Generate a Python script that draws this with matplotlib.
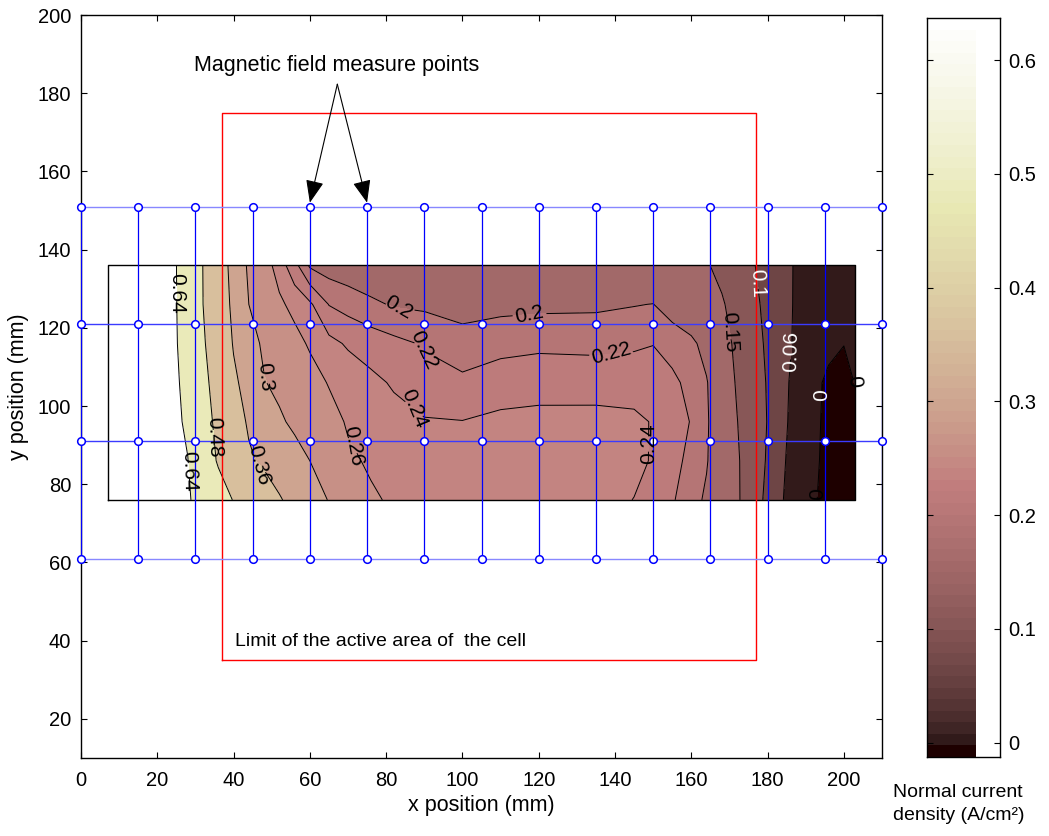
import numpy as np
import matplotlib
matplotlib.use("Agg")
import matplotlib.pyplot as plt
from matplotlib.colors import Normalize

plt.rcParams['font.family'] = ['Liberation Sans', 'DejaVu Sans']

# contour grid (mm) and current density values
xs = [7, 18, 24, 28, 32, 36, 40, 44, 48, 52, 56, 60, 65, 70, 76, 82, 90, 100,
      110, 120, 135, 145, 150, 155, 160, 164, 168, 172, 176, 180, 184, 188,
      192, 196, 200, 203]
ys = [76, 86, 96, 106, 116, 126, 136]
z76 = [0.80, 0.71, 0.674, 0.650, 0.601, 0.537, 0.475, 0.439, 0.402, 0.365, 0.342, 0.322,
       0.298, 0.282, 0.263, 0.257, 0.254, 0.253, 0.253, 0.252, 0.249, 0.2395, 0.231, 0.222,
       0.209, 0.196, 0.176, 0.156, 0.124, 0.089, 0.061, 0.033, 0.006, -0.018, -0.022, -0.022]
z86 = [0.80, 0.71, 0.669, 0.642, 0.552, 0.468, 0.419, 0.370, 0.347, 0.332, 0.316, 0.300,
       0.282, 0.264, 0.257, 0.254, 0.252, 0.252, 0.252, 0.252, 0.251, 0.246, 0.238, 0.227,
       0.214, 0.202, 0.179, 0.155, 0.126, 0.0955, 0.065, 0.0375, 0.010, -0.015, -0.020, -0.020]
z96 = [0.80, 0.71, 0.665, 0.625, 0.527, 0.451, 0.395, 0.351, 0.329, 0.306, 0.292, 0.282,
       0.269, 0.2575, 0.252, 0.246, 0.2415, 0.2405, 0.244, 0.246, 0.246, 0.244, 0.2388, 0.229,
       0.219, 0.2035, 0.179, 0.151, 0.125, 0.0985, 0.069, 0.041, 0.013, -0.014, -0.018, -0.015]
z106 = [0.80, 0.71, 0.663, 0.612, 0.508, 0.435, 0.3725, 0.334, 0.302, 0.2905, 0.280, 0.270,
        0.2585, 0.252, 0.2445, 0.238, 0.2285, 0.2248, 0.231, 0.2317, 0.2318, 0.2315, 0.229, 0.224,
        0.2146, 0.202, 0.175, 0.146, 0.122, 0.097, 0.071, 0.043, 0.016, -0.012, -0.015, 0.002]
z116 = [0.80, 0.71, 0.660, 0.597, 0.491, 0.419, 0.355, 0.317, 0.293, 0.281, 0.268, 0.257,
        0.2457, 0.2375, 0.2315, 0.2255, 0.218, 0.207, 0.213, 0.216, 0.2148, 0.217, 0.2195, 0.213,
        0.206, 0.190, 0.166, 0.1415, 0.117, 0.0934, 0.0715, 0.052, 0.035, 0.015, 0.001, 0.010]
z126 = [0.80, 0.71, 0.659, 0.590, 0.480, 0.407, 0.344, 0.300, 0.282, 0.2644, 0.2529, 0.2435,
        0.2193, 0.2124, 0.2041, 0.198, 0.196, 0.193, 0.194, 0.195, 0.196, 0.199, 0.2005, 0.189,
        0.176, 0.165, 0.154, 0.135, 0.1108, 0.0896, 0.0708, 0.054, 0.044, 0.035, 0.028, 0.028]
z136 = [0.80, 0.71, 0.658, 0.588, 0.478, 0.401, 0.336, 0.293, 0.271, 0.250, 0.227, 0.197,
        0.190, 0.186, 0.183, 0.181, 0.180, 0.178, 0.178, 0.179, 0.179, 0.175, 0.172, 0.166,
        0.160, 0.153, 0.140, 0.1216, 0.1032, 0.0863, 0.0696, 0.055, 0.045, 0.035, 0.030, 0.030]

levels = [0, 0.06, 0.1, 0.15, 0.2, 0.22, 0.24, 0.26, 0.3, 0.36, 0.48, 0.64]
cmin, cmax = -0.0125, 0.637

# magnetic field measure points
meas_x = [0, 15, 30, 45, 60, 75, 90, 105, 120, 135, 150, 165, 180, 195, 210]
meas_y = [61, 91, 121, 151]

# active area of the cell
cell_x = [37, 177, 177, 37, 37]
cell_y = [35, 35, 175, 175, 35]

# contour label positions (x, y, colour)
lab_pos = [(22.0, 128.8, 'k'), (24.2, 83.4, 'k'), (31.6, 91.9, 'k'), (45.0, 84.8, 'k'),
           (47.4, 107.3, 'k'), (70.1, 89.8, 'k'), (84.5, 98.9, 'k'), (81.9, 124.0, 'k'),
           (88.4, 114.2, 'k'), (120.3, 119.6, 'k'), (141.3, 110.8, 'k'), (144.0, 90.3, 'k'),
           (167.5, 119.0, 'k'), (174.1, 131.4, 'w'), (183.3, 113.9, 'w'), (194.6, 102.8, 'w'),
           (201.6, 106.2, 'k'), (192.4, 77.6, 'k')]

Z = np.array([z76, z86, z96, z106, z116, z126, z136])

fig = plt.figure(figsize=(10.49, 8.36), dpi=100)
ax = fig.add_axes([81/1049, 1-758/836, 801/1049, 743/836])

cmap = plt.get_cmap('pink', 64)
norm = Normalize(vmin=cmin, vmax=cmax)
# matlab style: each band gets the colour of its lower level
fill_levels = [-1.0] + levels + [2.0]
fill_colors = [cmap(0)] + [cmap(norm(l)) for l in levels]
ax.contourf(xs, ys, Z, levels=fill_levels, colors=fill_colors, zorder=1)
cs = ax.contour(xs, ys, Z, levels=levels, colors='k', linewidths=0.7, zorder=2)
txts = ax.clabel(cs, levels=levels, manual=[(p[0], p[1]) for p in lab_pos],
                 inline=True, inline_spacing=4, fontsize=15, fmt=lambda v: f'{v:g}')
for t, p in zip(txts, lab_pos):
    t.set_color(p[2])
    t.set_zorder(6)

# frame of the measured zone
ax.plot([xs[0], xs[-1], xs[-1], xs[0], xs[0]], [ys[0], ys[0], ys[-1], ys[-1], ys[0]],
        color='k', lw=1.0, zorder=3)

# red cell limit
ax.plot(cell_x, cell_y, color='#ff0000', lw=1.0, zorder=3)

# blue measuring grid
for yy in meas_y:
    c = '#3b3bff' if yy in (91, 121) else '#8888ff'
    ax.plot([meas_x[0], meas_x[-1]], [yy, yy], color=c, lw=1.0, zorder=4)
for xx in meas_x:
    ax.plot([xx, xx], [meas_y[0], meas_y[-1]], color='#0000ff', lw=0.9, zorder=4)
gx, gy = np.meshgrid(meas_x, meas_y)
ax.plot(gx.ravel(), gy.ravel(), 'o', ms=5.5, mfc='white', mec='#0000ff', mew=1.1,
        zorder=5, clip_on=False)

ax.text(66.9, 187.2, 'Magnetic field measure points', fontsize=15.5, ha='center', va='center')
for tx in (meas_x[4], meas_x[5]):
    ax.annotate('', xy=(tx, meas_y[-1] + 1.0), xytext=(67.2, 182.3),
                arrowprops=dict(arrowstyle='-|>,head_length=0.7,head_width=0.28',
                                color='k', lw=0.8, mutation_scale=20, shrinkA=0, shrinkB=0))
ax.text(40.5, 39.7, 'Limit of the active area of  the cell', fontsize=14, ha='left', va='center')

ax.set_xlim(0, 210)
ax.set_ylim(10, 200)
ax.set_xticks(np.arange(0, 201, 20))
ax.set_yticks(np.arange(20, 201, 20))
ax.tick_params(direction='in', top=True, right=True, length=4, width=0.8, labelsize=14.5)
ax.tick_params(axis='x', pad=9)
ax.tick_params(axis='y', pad=7)
for s in ax.spines.values():
    s.set_linewidth(1.0)
ax.set_xlabel('x position (mm)', fontsize=15.5, labelpad=4)
ax.set_ylabel('y position (mm)', fontsize=15.5, labelpad=6)

# colorbar
cax = fig.add_axes([927/1049, 1-757/836, 73/1049, 739/836])
grad = np.linspace(cmin, cmax, 64)
cax.imshow(grad[:, None], aspect='auto', cmap=cmap, norm=norm, origin='lower',
           extent=[0, 0.67, cmin, cmax], interpolation='nearest')
cax.set_xlim(0, 1)
cax.set_ylim(cmin, cmax)
cax.set_xticks([])
cax.set_yticks([0, 0.1, 0.2, 0.3, 0.4, 0.5, 0.6])
cax.set_yticklabels(['0', '0.1', '0.2', '0.3', '0.4', '0.5', '0.6'])
cax.tick_params(axis='y', direction='in', left=True, right=True, labelleft=False,
                labelright=True, length=4, width=0.8, labelsize=14.5, pad=6)
for s in cax.spines.values():
    s.set_linewidth(1.0)
fig.text(893/1049, 1-804/836, 'Normal current\ndensity (A/cm²)', fontsize=14,
         ha='left', va='center', linespacing=1.4)

fig.savefig('out.png', dpi=100)
